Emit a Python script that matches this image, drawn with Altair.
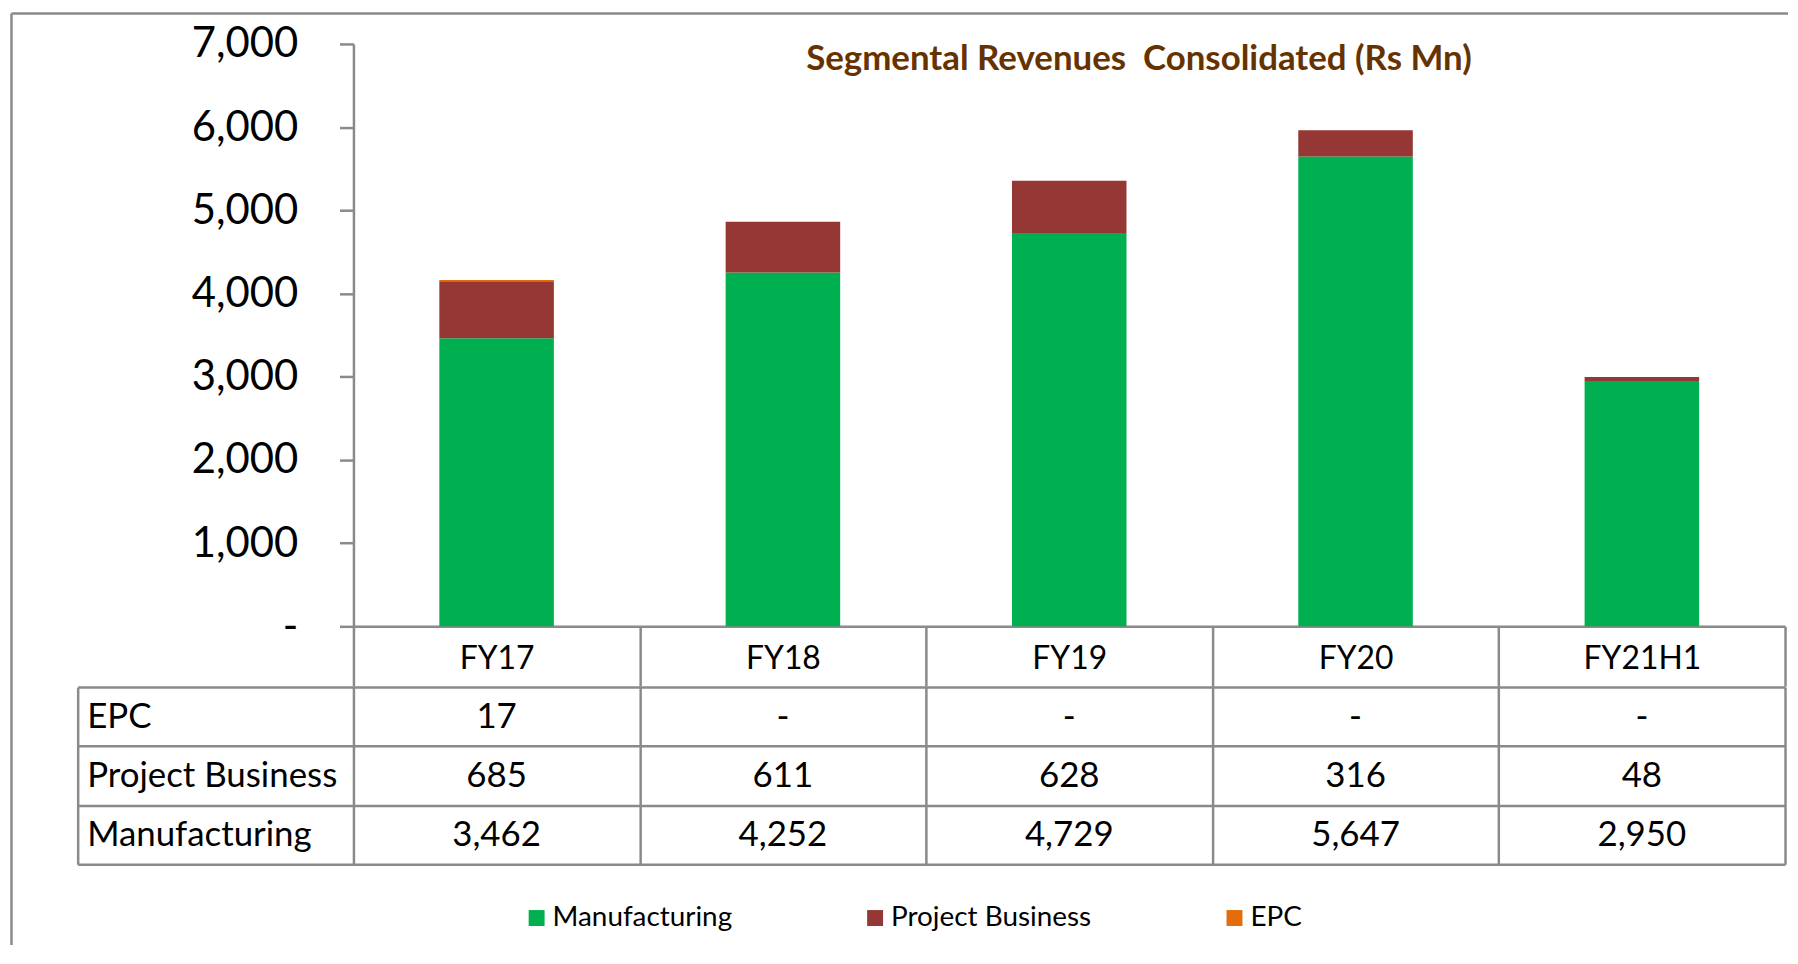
import altair as alt
import pandas as pd

# ---- data ----
categories = ["FY17", "FY18", "FY19", "FY20", "FY21H1"]
segments = ["Manufacturing", "Project Business", "EPC"]
manufacturing = [3462, 4252, 4729, 5647, 2950]
project_business = [685, 611, 628, 316, 48]
epc = [17, 0, 0, 0, 0]
table_rows = ["EPC", "Project Business", "Manufacturing"]
y_ticks = [0, 1000, 2000, 3000, 4000, 5000, 6000, 7000]
title_text = "Segmental Revenues \u00a0Consolidated (Rs Mn)"
seg_colors = ["#00B050", "#953735", "#E46C0A"]

series = {"Manufacturing": manufacturing, "Project Business": project_business, "EPC": epc}
records = []
for seg in segments:
    for cat, val in zip(categories, series[seg]):
        records.append({"category": cat, "segment": seg, "value": val})
df = pd.DataFrame(records)

# ---- styles ----
FONT = "Lato"
GRAY = "#8A8A8A"
LW = 2.5
W = 1438
H = 585
ROW_H = 178

order_expr = "indexof(" + str(segments) + ", datum.segment)"

bars = (
    alt.Chart(df)
    .transform_calculate(ord=order_expr)
    .mark_bar(width={"band": 0.4})
    .encode(
        x=alt.X(
            "category:N",
            sort=categories,
            title=None,
            scale=alt.Scale(paddingInner=0, paddingOuter=0),
            axis=alt.Axis(
                orient="bottom", tickBand="extent", tickSize=60, tickColor=GRAY,
                tickWidth=LW, domainColor=GRAY, domainWidth=LW, labelFont=FONT,
                labelFontSize=32, labelColor="black", labelPadding=-28,
                labelBaseline="middle", labelAngle=0, grid=False,
            ),
        ),
        y=alt.Y(
            "value:Q",
            title=None,
            scale=alt.Scale(domain=[0, 7000]),
            axis=alt.Axis(
                values=y_ticks, labelExpr="datum.value == 0 ? '-' : format(datum.value, ',')",
                tickSize=14, tickColor=GRAY, tickWidth=LW, domainColor=GRAY,
                domainWidth=LW, labelFont=FONT, labelFontSize=42, labelColor="black",
                labelPadding=42, grid=False,
            ),
        ),
        color=alt.Color(
            "segment:N",
            scale=alt.Scale(domain=segments, range=seg_colors),
            legend=alt.Legend(
                orient="none", legendX=170, legendY=864, direction="horizontal",
                title=None, symbolType="square", symbolSize=256, symbolStrokeWidth=0,
                labelFont=FONT, labelFontSize=28, labelColor="black", labelOffset=2,
                labelLimit=0, columnPadding=129,
            ),
        ),
        order=alt.Order("ord:Q"),
    )
)

frame_df = pd.DataFrame({"frame": ["border"]})
frame_top = alt.Chart(frame_df).mark_rule(color=GRAY, strokeWidth=LW).encode(
    x=alt.value(-343.5), x2=alt.value(W + 3), y=alt.value(-30.5)
)
frame_left = alt.Chart(frame_df).mark_rule(color=GRAY, strokeWidth=LW).encode(
    x=alt.value(-343.5), y=alt.value(-30.5), y2=alt.value(905)
)

title_df = pd.DataFrame({"title": [title_text]})
title_mark = alt.Chart(title_df).mark_text(
    font=FONT, fontSize=35, fontWeight="bold", color="#663300", align="center", baseline="middle"
).encode(text="title:N", x=alt.value(789), y=alt.value(15))

top = alt.layer(frame_top, frame_left, bars, title_mark).properties(width=W, height=H)

# ---- table ----
table_text = (
    alt.Chart(df)
    .transform_calculate(label="datum.value == 0 ? '-' : format(datum.value, ',')")
    .mark_text(font=FONT, fontSize=35, color="black", baseline="middle")
    .encode(
        x=alt.X(
            "category:N", sort=categories, title=None,
            scale=alt.Scale(paddingInner=0, paddingOuter=0),
            axis=alt.Axis(grid=True, tickBand="extent", labels=False, ticks=False,
                          domain=False, gridColor=GRAY, gridWidth=LW, gridOpacity=1),
        ),
        y=alt.Y(
            "segment:N", sort=table_rows, title=None,
            scale=alt.Scale(domain=table_rows, paddingInner=0, paddingOuter=0),
            axis=alt.Axis(
                grid=True, tickBand="extent", tickSize=277, tickColor=GRAY, tickWidth=LW,
                gridColor=GRAY, gridWidth=LW, gridOpacity=1, domain=False, labelAlign="left",
                labelPadding=-9, labelFont=FONT, labelFontSize=35, labelColor="black",
                labelLimit=0, labelBaseline="middle",
            ),
        ),
        text="label:N",
    )
)

table_border = alt.Chart(df).mark_text(opacity=0).encode(
    y=alt.Y(
        "segment:N", sort=table_rows, title=None,
        scale=alt.Scale(domain=table_rows, paddingInner=0, paddingOuter=0),
        axis=alt.Axis(orient="left", offset=277, domain=True, domainColor=GRAY,
                      domainWidth=LW, ticks=False, labels=False, grid=False),
    ),
    text=alt.value(""),
)

table = alt.layer(table_text, table_border).resolve_axis(y="independent").properties(
    width=W, height=ROW_H
)

chart = (
    alt.vconcat(top, table, spacing=61, bounds="flush")
    .resolve_legend(color="independent")
    .properties(padding={"left": 2, "top": 2, "right": 0, "bottom": 0})
    .configure(font=FONT)
    .configure_view(strokeWidth=0, stroke="transparent")
)

chart.save("out.html", embed_options={"renderer": "svg", "actions": False})
